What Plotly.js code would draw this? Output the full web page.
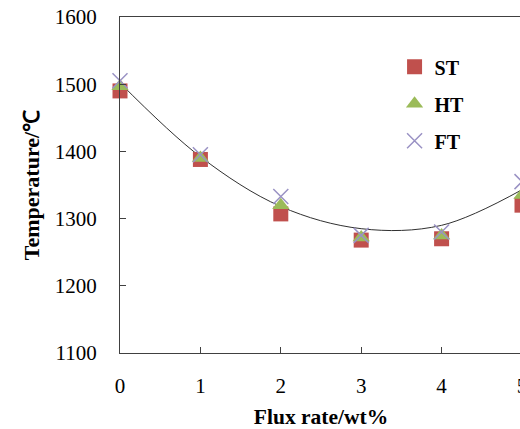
<!DOCTYPE html>
<html>
<head>
<meta charset="utf-8">
<script src="https://cdn.plot.ly/plotly-3.0.1.min.js"></script>
<style>
html,body{margin:0;padding:0;overflow:hidden;background:#fff;}
#chart{width:540px;height:429px;}
</style>
</head>
<body>
<div id="chart"></div>
<script>
// Data
var fluxRate = [0, 1, 2, 3, 4, 5];
var stValues = [1490, 1388, 1307, 1268, 1270, 1320];
var htValues = [1497, 1390, 1320, 1272, 1275, 1335];
var ftValues = [1505, 1395, 1333, 1275, 1280, 1355];
// trend line values read at each flux rate
var trendValues = [1502, 1392, 1318, 1285, 1290, 1343];
var xTicks = [0, 1, 2, 3, 4, 5];
var yTicks = [1100, 1200, 1300, 1400, 1500, 1600];

var serif = '"Liberation Serif", "Times New Roman", serif';

var traces = [
  {
    x: fluxRate, y: trendValues, mode: 'lines', type: 'scatter',
    line: {color: '#303030', width: 1, shape: 'spline', smoothing: 1},
    showlegend: false, hoverinfo: 'skip'
  },
  {
    x: fluxRate, y: stValues, mode: 'markers', type: 'scatter', name: 'ST',
    legendgroup: 'st',
    marker: {symbol: 'square', size: 15, color: '#C0504D'},
    cliponaxis: false
  },
  {
    x: fluxRate, y: htValues, mode: 'markers', type: 'scatter', name: 'HT',
    legendgroup: 'ht',
    marker: {symbol: 'triangle-up', size: 15, color: '#9BBB59'},
    cliponaxis: false
  },
  {
    x: fluxRate, y: ftValues, mode: 'markers', type: 'scatter', name: 'FT',
    legendgroup: 'ft',
    marker: {symbol: 'x-thin', size: 15, color: '#9A92C4', line: {color: '#9A92C4', width: 1.5}},
    cliponaxis: false
  }
];

var layout = {
  width: 540, height: 429,
  margin: {l: 120, r: 18, t: 17, b: 76},
  paper_bgcolor: '#fff', plot_bgcolor: '#fff',
  font: {family: serif, color: '#000'},
  showlegend: true,
  legend: {
    x: 0.683, y: 0.91, xanchor: 'left', yanchor: 'top',
    bgcolor: 'rgba(0,0,0,0)',
    font: {family: serif, size: 20, color: '#000', weight: 'bold'},
    traceorder: 'grouped', tracegroupgap: 8
  },
  xaxis: {
    range: [0, 5], tickvals: xTicks, ticktext: xTicks.map(String),
    ticks: 'inside', ticklen: 6, tickcolor: '#404040',
    showline: true, linecolor: '#404040', linewidth: 1, mirror: true,
    showgrid: false, zeroline: false,
    tickfont: {family: serif, size: 21, color: '#000'},
    ticklabelstandoff: 14,
    title: {text: 'Flux rate/wt%', font: {family: serif, size: 21.5, color: '#000', weight: 'bold'}, standoff: 12}
  },
  yaxis: {
    range: [1100, 1600], tickvals: yTicks, ticktext: yTicks.map(String),
    ticks: 'inside', ticklen: 6, tickcolor: '#404040',
    showline: true, linecolor: '#404040', linewidth: 1, mirror: true,
    showgrid: false, zeroline: false,
    tickfont: {family: serif, size: 21, color: '#000'},
    ticklabelstandoff: 18,
    title: {text: 'Temperature/℃', font: {family: serif, size: 22, color: '#000', weight: 'bold'}, standoff: 9}
  }
};

Plotly.newPlot('chart', traces, layout, {displayModeBar: false, staticPlot: true});
</script>
</body>
</html>
